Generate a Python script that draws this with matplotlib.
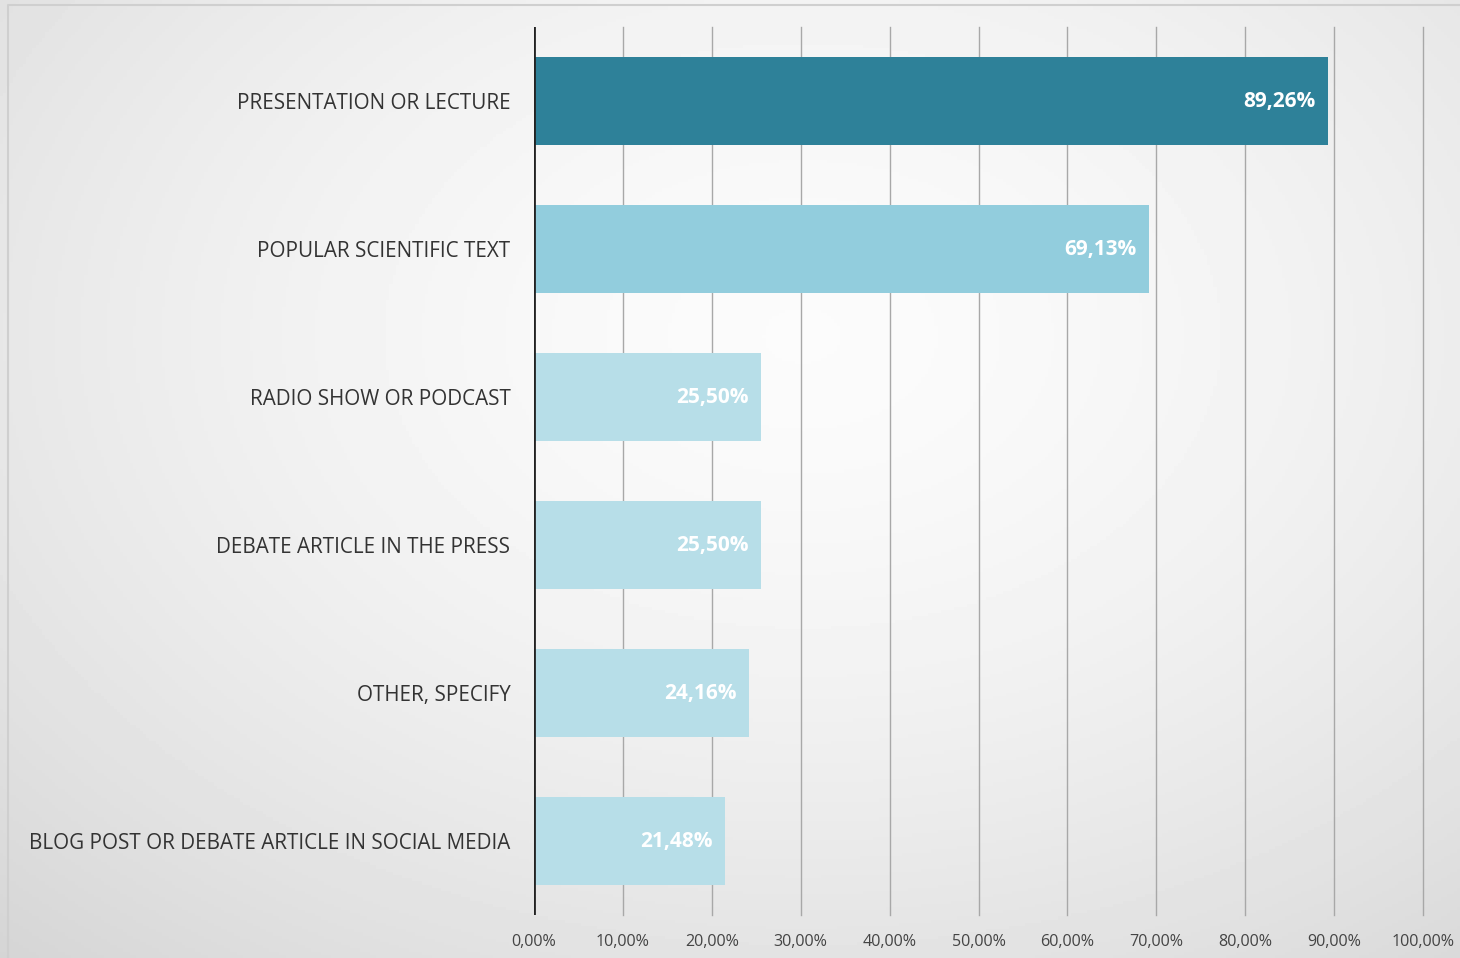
import matplotlib.pyplot as plt
import numpy as np

categories = ['PRESENTATION OR LECTURE', 'POPULAR SCIENTIFIC TEXT', 'RADIO SHOW OR PODCAST',
              'DEBATE ARTICLE IN THE PRESS', 'OTHER, SPECIFY',
              'BLOG POST OR DEBATE ARTICLE IN SOCIAL MEDIA']
values = [89.26, 69.13, 25.50, 25.50, 24.16, 21.48]
bar_colors = ['#2E8199', '#92CDDD', '#B7DEE8', '#B7DEE8', '#B7DEE8', '#B7DEE8']
xticks = list(range(0, 101, 10))

plt.rcParams['font.family'] = ['Open Sans', 'DejaVu Sans']

fig = plt.figure(figsize=(14.6, 9.58), dpi=100)

# soft grey background with a lighter centre
bg = fig.add_axes([0, 0, 1, 1], zorder=-1)
yy, xx = np.mgrid[0:1:300j, 0:1:450j]
r = np.sqrt(((xx - 0.55) / 0.75) ** 2 + ((yy - 0.35) / 0.8) ** 2)
shade = 0.985 - 0.13 * np.clip(r, 0, 1.2) ** 1.6
bg.imshow(shade, cmap='gray', vmin=0, vmax=1, extent=[0, 1, 0, 1], aspect='auto', origin='upper')
bg.plot([0.0055, 0.0055, 1], [0, 0.9947, 0.9947], color='#cfcfcf', lw=1.5)
bg.set_xlim(0, 1)
bg.set_ylim(0, 1)
bg.axis('off')

ax = fig.add_axes([534 / 1460, 1 - 915 / 958, 889 / 1460, 888 / 958])
ax.patch.set_alpha(0)

y = np.arange(len(categories))
ax.barh(y, values, height=0.595, color=bar_colors, zorder=2)

for xi in xticks[1:]:
    ax.axvline(xi, color='#a8a8a8', lw=1, zorder=1, clip_on=False)
ax.axvline(0, color='#222222', lw=2, zorder=3)

for yi, v in zip(y, values):
    ax.text(v - 1.4, yi, f'{v:.2f}%'.replace('.', ','), ha='right', va='center',
            color='white', fontsize=15, fontweight='bold', zorder=4)

ax.set_xlim(0, 100)
ax.set_ylim(len(categories) - 0.5, -0.5)
ax.set_yticks(y)
ax.set_yticklabels(categories, fontsize=14.9, color='#333333')
ax.set_xticks(xticks)
ax.set_xticklabels([f'{t},00%' for t in xticks], fontsize=11.6, color='#444444')
ax.tick_params(axis='y', length=0, pad=17)
ax.tick_params(axis='x', length=0, pad=14)
for s in ax.spines.values():
    s.set_visible(False)

fig.savefig('out.png', dpi=100)
